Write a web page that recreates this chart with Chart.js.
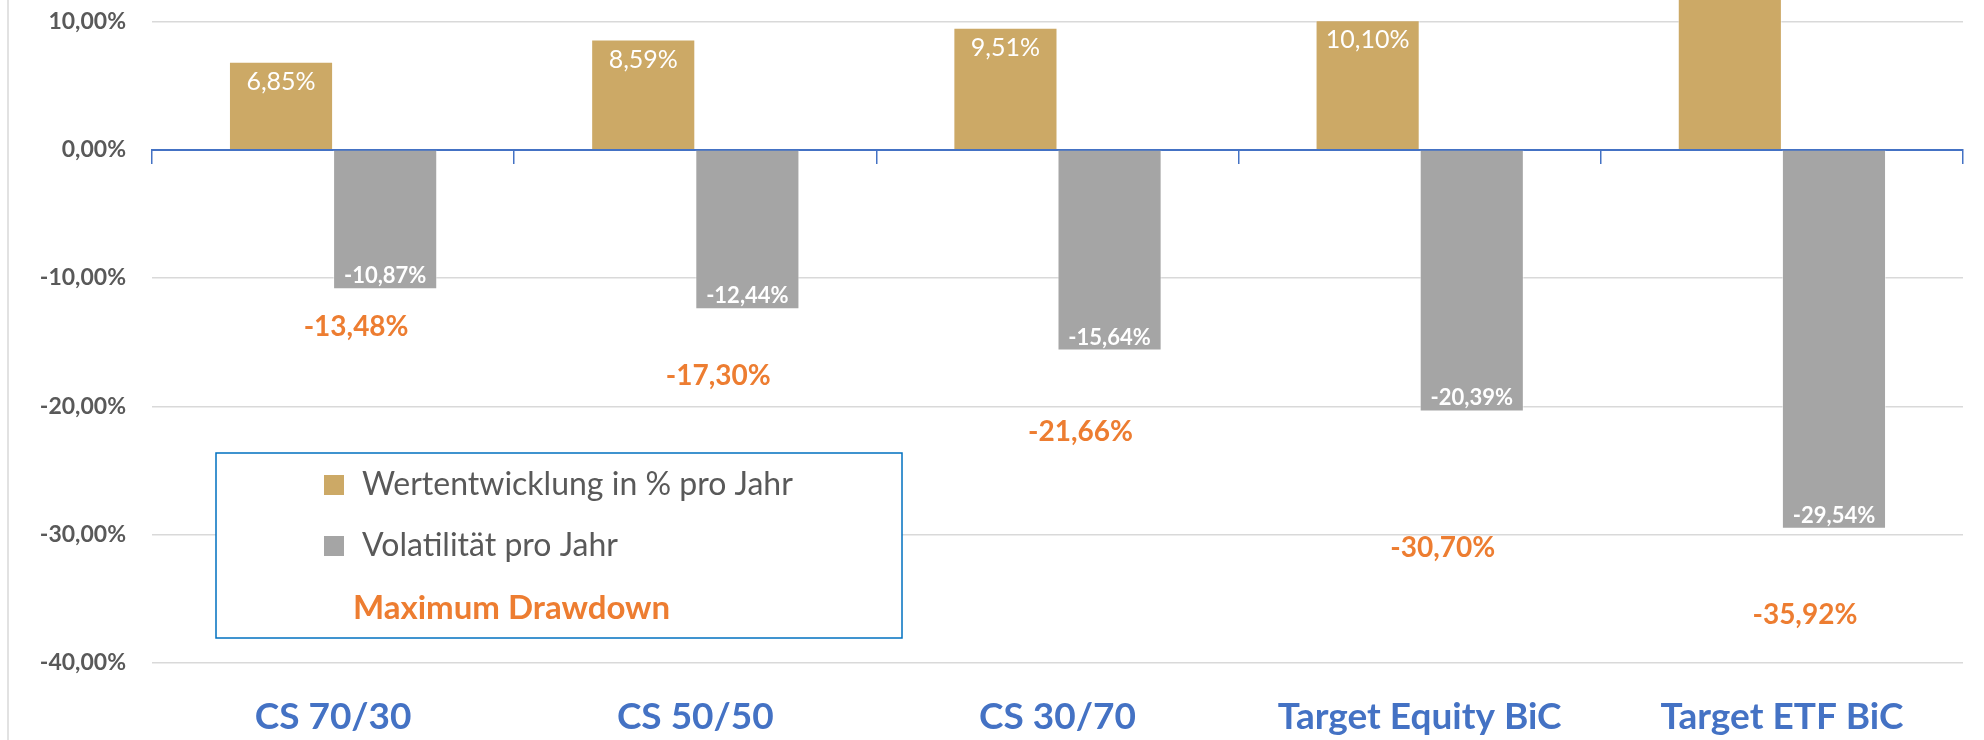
<!DOCTYPE html>
<html>
<head>
<meta charset="utf-8">
<script src="https://cdn.jsdelivr.net/npm/chart.js@4/dist/chart.umd.min.js"></script>
<style>
  html, body { margin: 0; padding: 0; background: #fff; }
  #wrap { width: 1984px; height: 740px; position: relative; }
</style>
</head>
<body>
<div id="wrap"><canvas id="chart" width="1984" height="740"></canvas></div>
<script>
const categories = ['CS 70/30', 'CS 50/50', 'CS 30/70', 'Target Equity BiC', 'Target ETF BiC'];
const performance = [6.85, 8.59, 9.51, 10.10, 15.0];
const volatility = [-10.87, -12.44, -15.64, -20.39, -29.54];
const drawdown = [-13.48, -17.30, -21.66, -30.70, -35.92];
const seriesNames = ['Wertentwicklung in % pro Jahr', 'Volatilität pro Jahr', 'Maximum Drawdown'];
const yTicks = [-40, -30, -20, -10, 0, 10];

const GOLD = '#CCA966';
const GREY = '#A5A5A5';
const ORANGE = '#ED7D31';
const BLUE = '#4472C4';
const FONT = 'Lato, "Open Sans", sans-serif';

const fmt = v => v.toFixed(2).replace('.', ',') + '%';

// value labels on bars + drawdown labels
const labelPlugin = {
    id: 'valueLabels',
    afterDatasetsDraw(chart) {
        const ctx = chart.ctx;
        ctx.save();
        ctx.textAlign = 'center';
        ctx.textBaseline = 'middle';

        ctx.font = '25px ' + FONT;
        ctx.fillStyle = '#ffffff';
        chart.getDatasetMeta(0).data.forEach((bar, i) => {
            ctx.fillText(fmt(performance[i]), bar.x, bar.y + 20);
        });

        ctx.font = 'bold 22px ' + FONT;
        chart.getDatasetMeta(1).data.forEach((bar, i) => {
            ctx.fillText(fmt(volatility[i]), bar.x, bar.y - 13);
        });

        ctx.font = 'bold 28px ' + FONT;
        ctx.fillStyle = ORANGE;
        chart.getDatasetMeta(2).data.forEach((pt, i) => {
            ctx.fillText(fmt(drawdown[i]), pt.x + 23, pt.y + 4);
        });
        ctx.restore();
    }
};

// boxed legend inside the plot + outer frame line
const legendPlugin = {
    id: 'boxLegend',
    beforeDraw(chart) {
        const ctx = chart.ctx;
        ctx.save();
        ctx.strokeStyle = '#D9D9D9';
        ctx.lineWidth = 1.5;
        ctx.beginPath();
        ctx.moveTo(8, 0);
        ctx.lineTo(8, chart.height);
        ctx.stroke();
        ctx.restore();
    },
    afterDraw(chart) {
        const ctx = chart.ctx;
        const ds = chart.data.datasets;
        ctx.save();
        ctx.fillStyle = '#ffffff';
        ctx.fillRect(216, 453, 686, 185);
        ctx.strokeStyle = '#0070C0';
        ctx.lineWidth = 1.5;
        ctx.strokeRect(216, 453, 686, 185);

        ctx.textBaseline = 'middle';
        ctx.textAlign = 'left';
        const rows = [485, 546];
        for (let i = 0; i < 2; i++) {
            ctx.fillStyle = ds[i].backgroundColor;
            ctx.fillRect(324, rows[i] - 10, 20, 20);
            ctx.fillStyle = '#595959';
            ctx.font = '32px ' + FONT;
            ctx.fillText(ds[i].label, 362, rows[i]);
        }
        ctx.fillStyle = ORANGE;
        ctx.font = 'bold 33px ' + FONT;
        ctx.fillText(ds[2].label, 353, 608);
        ctx.restore();
    }
};

new Chart(document.getElementById('chart'), {
    type: 'bar',
    data: {
        labels: categories,
        datasets: [
            {
                label: seriesNames[0],
                data: performance,
                backgroundColor: GOLD,
                borderColor: 'rgba(255,255,255,0.5)',
                borderWidth: 1,
                categoryPercentage: 0.575,
                barPercentage: 1.0,
                order: 2
            },
            {
                label: seriesNames[1],
                data: volatility,
                backgroundColor: GREY,
                borderColor: 'rgba(255,255,255,0.5)',
                borderWidth: 1,
                categoryPercentage: 0.575,
                barPercentage: 1.0,
                order: 2
            },
            {
                type: 'line',
                label: seriesNames[2],
                data: drawdown,
                showLine: false,
                pointRadius: 0,
                borderColor: ORANGE,
                backgroundColor: ORANGE,
                order: 1
            }
        ]
    },
    options: {
        responsive: false,
        animation: false,
        layout: { padding: { left: 0, right: 21, top: 0, bottom: 0 } },
        plugins: {
            legend: { display: false },
            tooltip: { enabled: false }
        },
        scales: {
            x: {
                type: 'category',
                offset: true,
                grid: { display: false, drawTicks: false },
                border: { display: false },
                ticks: {
                    padding: 32,
                    color: BLUE,
                    font: { family: FONT, size: 37, weight: 'bold' },
                    maxRotation: 0
                },
                afterFit(scale) {
                    scale.height = 77;
                    scale.paddingLeft = 0;
                    scale.paddingRight = 0;
                }
            },
            x0: {
                type: 'category',
                axis: 'x',
                position: { y: 0 },
                offset: true,
                z: 1,
                grid: {
                    offset: true,
                    drawOnChartArea: false,
                    drawTicks: true,
                    tickLength: 13,
                    color: BLUE,
                    lineWidth: 1.5
                },
                border: { display: true, color: BLUE, width: 2 },
                ticks: { display: false },
                afterFit(scale) {
                    scale.paddingLeft = 0;
                    scale.paddingRight = 0;
                }
            },
            y: {
                min: -40,
                max: 11.67,
                afterBuildTicks(axis) {
                    axis.ticks = yTicks.map(v => ({ value: v }));
                },
                grid: {
                    drawTicks: false,
                    lineWidth: 1.5,
                    color: c => (c.tick && c.tick.value === 0) ? BLUE : '#D9D9D9'
                },
                border: { display: false },
                ticks: {
                    padding: 26,
                    color: '#595959',
                    font: { family: FONT, size: 23, weight: 'bold' },
                    callback: v => fmt(v)
                },
                afterFit(scale) {
                    scale.width = 152;
                    scale.paddingTop = 0;
                    scale.paddingBottom = 0;
                }
            }
        }
    },
    plugins: [labelPlugin, legendPlugin]
});
</script>
</body>
</html>
